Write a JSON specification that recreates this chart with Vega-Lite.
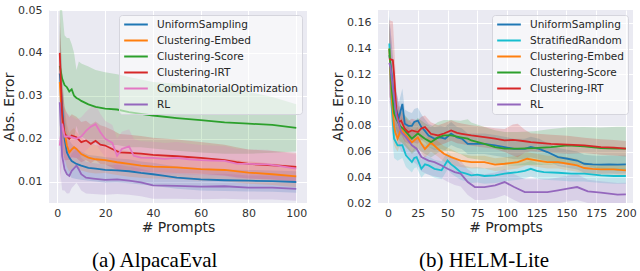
{
"$schema":"https://vega.github.io/schema/vega-lite/v6.json",
"padding":{"left":2,"top":4,"right":0,"bottom":0},
"background":"white",
"datasets":{
"alpaca":[
{"m":"UniformSampling","x":1,"y":0.0352,"lo":0.0232,"hi":0.0472},
{"m":"UniformSampling","x":2,"y":0.0277,"lo":0.0197,"hi":0.0357},
{"m":"UniformSampling","x":3,"y":0.0200,"lo":0.0140,"hi":0.0260},
{"m":"UniformSampling","x":4,"y":0.0168,"lo":0.0118,"hi":0.0218},
{"m":"UniformSampling","x":5,"y":0.0156,"lo":0.0116,"hi":0.0196},
{"m":"UniformSampling","x":6,"y":0.0148,"lo":0.0108,"hi":0.0188},
{"m":"UniformSampling","x":8,"y":0.0141,"lo":0.0106,"hi":0.0176},
{"m":"UniformSampling","x":10,"y":0.0137,"lo":0.0104,"hi":0.0170},
{"m":"UniformSampling","x":13,"y":0.0132,"lo":0.0102,"hi":0.0162},
{"m":"UniformSampling","x":16,"y":0.0130,"lo":0.0100,"hi":0.0160},
{"m":"UniformSampling","x":20,"y":0.0127,"lo":0.0097,"hi":0.0157},
{"m":"UniformSampling","x":25,"y":0.0126,"lo":0.0098,"hi":0.0154},
{"m":"UniformSampling","x":30,"y":0.0124,"lo":0.0096,"hi":0.0152},
{"m":"UniformSampling","x":35,"y":0.0120,"lo":0.0093,"hi":0.0147},
{"m":"UniformSampling","x":40,"y":0.0117,"lo":0.0090,"hi":0.0144},
{"m":"UniformSampling","x":45,"y":0.0113,"lo":0.0087,"hi":0.0139},
{"m":"UniformSampling","x":50,"y":0.0109,"lo":0.0083,"hi":0.0135},
{"m":"UniformSampling","x":60,"y":0.0105,"lo":0.0079,"hi":0.0131},
{"m":"UniformSampling","x":70,"y":0.0103,"lo":0.0078,"hi":0.0128},
{"m":"UniformSampling","x":80,"y":0.0102,"lo":0.0077,"hi":0.0127},
{"m":"UniformSampling","x":90,"y":0.0101,"lo":0.0076,"hi":0.0126},
{"m":"UniformSampling","x":100,"y":0.0099,"lo":0.0074,"hi":0.0124},
{"m":"Clustering-Embed","x":1,"y":0.0332,"lo":0.0212,"hi":0.0452},
{"m":"Clustering-Embed","x":2,"y":0.0238,"lo":0.0158,"hi":0.0318},
{"m":"Clustering-Embed","x":3,"y":0.0215,"lo":0.0155,"hi":0.0275},
{"m":"Clustering-Embed","x":4,"y":0.0184,"lo":0.0134,"hi":0.0234},
{"m":"Clustering-Embed","x":5,"y":0.0168,"lo":0.0123,"hi":0.0213},
{"m":"Clustering-Embed","x":6,"y":0.0175,"lo":0.0130,"hi":0.0220},
{"m":"Clustering-Embed","x":7,"y":0.0180,"lo":0.0135,"hi":0.0225},
{"m":"Clustering-Embed","x":8,"y":0.0176,"lo":0.0136,"hi":0.0216},
{"m":"Clustering-Embed","x":10,"y":0.0164,"lo":0.0126,"hi":0.0202},
{"m":"Clustering-Embed","x":13,"y":0.0156,"lo":0.0121,"hi":0.0191},
{"m":"Clustering-Embed","x":16,"y":0.0152,"lo":0.0119,"hi":0.0185},
{"m":"Clustering-Embed","x":20,"y":0.0150,"lo":0.0120,"hi":0.0180},
{"m":"Clustering-Embed","x":25,"y":0.0145,"lo":0.0115,"hi":0.0175},
{"m":"Clustering-Embed","x":30,"y":0.0141,"lo":0.0111,"hi":0.0171},
{"m":"Clustering-Embed","x":35,"y":0.0137,"lo":0.0109,"hi":0.0165},
{"m":"Clustering-Embed","x":40,"y":0.0135,"lo":0.0107,"hi":0.0163},
{"m":"Clustering-Embed","x":50,"y":0.0133,"lo":0.0106,"hi":0.0160},
{"m":"Clustering-Embed","x":60,"y":0.0129,"lo":0.0102,"hi":0.0156},
{"m":"Clustering-Embed","x":70,"y":0.0127,"lo":0.0101,"hi":0.0153},
{"m":"Clustering-Embed","x":80,"y":0.0121,"lo":0.0095,"hi":0.0147},
{"m":"Clustering-Embed","x":90,"y":0.0117,"lo":0.0092,"hi":0.0142},
{"m":"Clustering-Embed","x":100,"y":0.0112,"lo":0.0087,"hi":0.0137},
{"m":"Clustering-Score","x":1,"y":0.037,"lo":0.017,"hi":0.058},
{"m":"Clustering-Score","x":2,"y":0.034,"lo":0.020,"hi":0.050},
{"m":"Clustering-Score","x":3,"y":0.0325,"lo":0.021,"hi":0.0441},
{"m":"Clustering-Score","x":4,"y":0.032,"lo":0.0205,"hi":0.0435},
{"m":"Clustering-Score","x":5,"y":0.031,"lo":0.0195,"hi":0.0435},
{"m":"Clustering-Score","x":6,"y":0.0315,"lo":0.021,"hi":0.042},
{"m":"Clustering-Score","x":7,"y":0.030,"lo":0.020,"hi":0.040},
{"m":"Clustering-Score","x":8,"y":0.0295,"lo":0.023,"hi":0.036},
{"m":"Clustering-Score","x":9,"y":0.0292,"lo":0.021,"hi":0.038},
{"m":"Clustering-Score","x":10,"y":0.0288,"lo":0.0205,"hi":0.0375},
{"m":"Clustering-Score","x":13,"y":0.0280,"lo":0.0195,"hi":0.0368},
{"m":"Clustering-Score","x":16,"y":0.0274,"lo":0.019,"hi":0.036},
{"m":"Clustering-Score","x":20,"y":0.0270,"lo":0.0185,"hi":0.0355},
{"m":"Clustering-Score","x":25,"y":0.0268,"lo":0.0185,"hi":0.0350},
{"m":"Clustering-Score","x":30,"y":0.0262,"lo":0.018,"hi":0.0344},
{"m":"Clustering-Score","x":35,"y":0.0258,"lo":0.018,"hi":0.0338},
{"m":"Clustering-Score","x":40,"y":0.0254,"lo":0.0177,"hi":0.0332},
{"m":"Clustering-Score","x":50,"y":0.0248,"lo":0.0172,"hi":0.0328},
{"m":"Clustering-Score","x":60,"y":0.0243,"lo":0.0168,"hi":0.0320},
{"m":"Clustering-Score","x":70,"y":0.0238,"lo":0.0165,"hi":0.0315},
{"m":"Clustering-Score","x":80,"y":0.0235,"lo":0.0165,"hi":0.0309},
{"m":"Clustering-Score","x":90,"y":0.0232,"lo":0.0167,"hi":0.0297},
{"m":"Clustering-Score","x":100,"y":0.0225,"lo":0.0170,"hi":0.0280},
{"m":"Clustering-IRT","x":1,"y":0.040,"lo":0.030,"hi":0.050},
{"m":"Clustering-IRT","x":2,"y":0.0255,"lo":0.0175,"hi":0.0335},
{"m":"Clustering-IRT","x":3,"y":0.0212,"lo":0.015,"hi":0.0274},
{"m":"Clustering-IRT","x":4,"y":0.0205,"lo":0.0150,"hi":0.0260},
{"m":"Clustering-IRT","x":5,"y":0.0200,"lo":0.0150,"hi":0.0250},
{"m":"Clustering-IRT","x":6,"y":0.0207,"lo":0.0157,"hi":0.0257},
{"m":"Clustering-IRT","x":8,"y":0.0203,"lo":0.0155,"hi":0.0251},
{"m":"Clustering-IRT","x":10,"y":0.0192,"lo":0.0145,"hi":0.0239},
{"m":"Clustering-IRT","x":12,"y":0.0196,"lo":0.0150,"hi":0.0242},
{"m":"Clustering-IRT","x":14,"y":0.0188,"lo":0.0143,"hi":0.0233},
{"m":"Clustering-IRT","x":16,"y":0.0195,"lo":0.0150,"hi":0.0240},
{"m":"Clustering-IRT","x":18,"y":0.0186,"lo":0.0141,"hi":0.0231},
{"m":"Clustering-IRT","x":20,"y":0.0184,"lo":0.0140,"hi":0.0228},
{"m":"Clustering-IRT","x":23,"y":0.0176,"lo":0.0132,"hi":0.0220},
{"m":"Clustering-IRT","x":26,"y":0.0168,"lo":0.0125,"hi":0.0211},
{"m":"Clustering-IRT","x":30,"y":0.0167,"lo":0.0125,"hi":0.0209},
{"m":"Clustering-IRT","x":35,"y":0.0165,"lo":0.0124,"hi":0.0206},
{"m":"Clustering-IRT","x":40,"y":0.0162,"lo":0.0122,"hi":0.0202},
{"m":"Clustering-IRT","x":50,"y":0.0159,"lo":0.0120,"hi":0.0198},
{"m":"Clustering-IRT","x":60,"y":0.0155,"lo":0.0118,"hi":0.0192},
{"m":"Clustering-IRT","x":70,"y":0.0150,"lo":0.0114,"hi":0.0186},
{"m":"Clustering-IRT","x":75,"y":0.0145,"lo":0.0110,"hi":0.0180},
{"m":"Clustering-IRT","x":80,"y":0.0141,"lo":0.0107,"hi":0.0175},
{"m":"Clustering-IRT","x":90,"y":0.0138,"lo":0.0105,"hi":0.0171},
{"m":"Clustering-IRT","x":100,"y":0.0134,"lo":0.0101,"hi":0.0167},
{"m":"CombinatorialOptimization","x":1,"y":0.0184,"lo":0.008,"hi":0.029},
{"m":"CombinatorialOptimization","x":2,"y":0.0235,"lo":0.016,"hi":0.031},
{"m":"CombinatorialOptimization","x":3,"y":0.0205,"lo":0.0145,"hi":0.0265},
{"m":"CombinatorialOptimization","x":5,"y":0.0205,"lo":0.0155,"hi":0.0255},
{"m":"CombinatorialOptimization","x":8,"y":0.0200,"lo":0.0155,"hi":0.0245},
{"m":"CombinatorialOptimization","x":10,"y":0.0205,"lo":0.0160,"hi":0.0250},
{"m":"CombinatorialOptimization","x":12,"y":0.0218,"lo":0.0173,"hi":0.0263},
{"m":"CombinatorialOptimization","x":14,"y":0.0228,"lo":0.0183,"hi":0.0273},
{"m":"CombinatorialOptimization","x":16,"y":0.0234,"lo":0.0190,"hi":0.0278},
{"m":"CombinatorialOptimization","x":18,"y":0.0215,"lo":0.0172,"hi":0.0258},
{"m":"CombinatorialOptimization","x":20,"y":0.0200,"lo":0.0158,"hi":0.0242},
{"m":"CombinatorialOptimization","x":23,"y":0.0190,"lo":0.0148,"hi":0.0232},
{"m":"CombinatorialOptimization","x":25,"y":0.0160,"lo":0.0120,"hi":0.0200},
{"m":"CombinatorialOptimization","x":27,"y":0.0176,"lo":0.0136,"hi":0.0216},
{"m":"CombinatorialOptimization","x":30,"y":0.0182,"lo":0.0142,"hi":0.0222},
{"m":"CombinatorialOptimization","x":32,"y":0.0160,"lo":0.0121,"hi":0.0199},
{"m":"CombinatorialOptimization","x":35,"y":0.0156,"lo":0.0118,"hi":0.0194},
{"m":"CombinatorialOptimization","x":40,"y":0.0155,"lo":0.0117,"hi":0.0193},
{"m":"CombinatorialOptimization","x":45,"y":0.0153,"lo":0.0116,"hi":0.0190},
{"m":"CombinatorialOptimization","x":50,"y":0.0155,"lo":0.0118,"hi":0.0192},
{"m":"CombinatorialOptimization","x":55,"y":0.0152,"lo":0.0116,"hi":0.0188},
{"m":"CombinatorialOptimization","x":60,"y":0.0150,"lo":0.0115,"hi":0.0185},
{"m":"CombinatorialOptimization","x":65,"y":0.0149,"lo":0.0114,"hi":0.0184},
{"m":"CombinatorialOptimization","x":70,"y":0.0148,"lo":0.0113,"hi":0.0183},
{"m":"CombinatorialOptimization","x":75,"y":0.0142,"lo":0.0108,"hi":0.0176},
{"m":"CombinatorialOptimization","x":80,"y":0.0141,"lo":0.0107,"hi":0.0175},
{"m":"CombinatorialOptimization","x":88,"y":0.0140,"lo":0.0106,"hi":0.0174},
{"m":"CombinatorialOptimization","x":92,"y":0.0137,"lo":0.0104,"hi":0.0170},
{"m":"CombinatorialOptimization","x":100,"y":0.0130,"lo":0.0097,"hi":0.0163},
{"m":"RL","x":1,"y":0.0285,"lo":0.0135,"hi":0.0435},
{"m":"RL","x":2,"y":0.0160,"lo":0.0080,"hi":0.0240},
{"m":"RL","x":3,"y":0.0129,"lo":0.0079,"hi":0.0179},
{"m":"RL","x":4,"y":0.0117,"lo":0.0072,"hi":0.0162},
{"m":"RL","x":5,"y":0.0113,"lo":0.0073,"hi":0.0153},
{"m":"RL","x":6,"y":0.0125,"lo":0.0085,"hi":0.0165},
{"m":"RL","x":8,"y":0.0137,"lo":0.0097,"hi":0.0177},
{"m":"RL","x":9,"y":0.0128,"lo":0.0089,"hi":0.0167},
{"m":"RL","x":10,"y":0.0117,"lo":0.0079,"hi":0.0155},
{"m":"RL","x":12,"y":0.0109,"lo":0.0072,"hi":0.0146},
{"m":"RL","x":15,"y":0.0107,"lo":0.0071,"hi":0.0143},
{"m":"RL","x":20,"y":0.0104,"lo":0.0069,"hi":0.0139},
{"m":"RL","x":25,"y":0.0105,"lo":0.0071,"hi":0.0139},
{"m":"RL","x":30,"y":0.0102,"lo":0.0069,"hi":0.0135},
{"m":"RL","x":35,"y":0.0098,"lo":0.0066,"hi":0.0130},
{"m":"RL","x":40,"y":0.0091,"lo":0.0060,"hi":0.0122},
{"m":"RL","x":50,"y":0.0090,"lo":0.0060,"hi":0.0120},
{"m":"RL","x":60,"y":0.0088,"lo":0.0059,"hi":0.0117},
{"m":"RL","x":70,"y":0.0089,"lo":0.0060,"hi":0.0118},
{"m":"RL","x":80,"y":0.0086,"lo":0.0058,"hi":0.0114},
{"m":"RL","x":90,"y":0.0086,"lo":0.0058,"hi":0.0114},
{"m":"RL","x":100,"y":0.0083,"lo":0.0055,"hi":0.0111}
],
"helm":[
{"m":"UniformSampling","x":1,"y":0.135,"lo":0.105,"hi":0.165},
{"m":"UniformSampling","x":3,"y":0.120,"lo":0.095,"hi":0.145},
{"m":"UniformSampling","x":5,"y":0.100,"lo":0.080,"hi":0.120},
{"m":"UniformSampling","x":7,"y":0.092,"lo":0.077,"hi":0.107},
{"m":"UniformSampling","x":9,"y":0.086,"lo":0.074,"hi":0.098},
{"m":"UniformSampling","x":12,"y":0.097,"lo":0.085,"hi":0.109},
{"m":"UniformSampling","x":14,"y":0.0816,"lo":0.0706,"hi":0.0926},
{"m":"UniformSampling","x":17,"y":0.080,"lo":0.069,"hi":0.091},
{"m":"UniformSampling","x":20,"y":0.080,"lo":0.070,"hi":0.090},
{"m":"UniformSampling","x":22,"y":0.083,"lo":0.073,"hi":0.093},
{"m":"UniformSampling","x":25,"y":0.084,"lo":0.074,"hi":0.094},
{"m":"UniformSampling","x":28,"y":0.079,"lo":0.069,"hi":0.089},
{"m":"UniformSampling","x":31,"y":0.076,"lo":0.067,"hi":0.085},
{"m":"UniformSampling","x":34,"y":0.0725,"lo":0.0635,"hi":0.0815},
{"m":"UniformSampling","x":39,"y":0.070,"lo":0.061,"hi":0.079},
{"m":"UniformSampling","x":44,"y":0.071,"lo":0.062,"hi":0.080},
{"m":"UniformSampling","x":48,"y":0.070,"lo":0.061,"hi":0.079},
{"m":"UniformSampling","x":53,"y":0.074,"lo":0.065,"hi":0.083},
{"m":"UniformSampling","x":58,"y":0.071,"lo":0.063,"hi":0.079},
{"m":"UniformSampling","x":62,"y":0.070,"lo":0.062,"hi":0.078},
{"m":"UniformSampling","x":67,"y":0.066,"lo":0.058,"hi":0.074},
{"m":"UniformSampling","x":73,"y":0.066,"lo":0.058,"hi":0.074},
{"m":"UniformSampling","x":81,"y":0.066,"lo":0.058,"hi":0.074},
{"m":"UniformSampling","x":90,"y":0.0648,"lo":0.0568,"hi":0.0728},
{"m":"UniformSampling","x":98,"y":0.0635,"lo":0.0555,"hi":0.0715},
{"m":"UniformSampling","x":106,"y":0.062,"lo":0.054,"hi":0.070},
{"m":"UniformSampling","x":115,"y":0.062,"lo":0.054,"hi":0.070},
{"m":"UniformSampling","x":120,"y":0.0635,"lo":0.0555,"hi":0.0715},
{"m":"UniformSampling","x":127,"y":0.062,"lo":0.054,"hi":0.070},
{"m":"UniformSampling","x":134,"y":0.0596,"lo":0.0526,"hi":0.0666},
{"m":"UniformSampling","x":143,"y":0.0557,"lo":0.0487,"hi":0.0627},
{"m":"UniformSampling","x":151,"y":0.0544,"lo":0.0474,"hi":0.0614},
{"m":"UniformSampling","x":159,"y":0.053,"lo":0.046,"hi":0.060},
{"m":"UniformSampling","x":165,"y":0.0505,"lo":0.0435,"hi":0.0575},
{"m":"UniformSampling","x":172,"y":0.050,"lo":0.043,"hi":0.057},
{"m":"UniformSampling","x":179,"y":0.0498,"lo":0.0428,"hi":0.0568},
{"m":"UniformSampling","x":186,"y":0.050,"lo":0.043,"hi":0.057},
{"m":"UniformSampling","x":193,"y":0.0498,"lo":0.0428,"hi":0.0568},
{"m":"UniformSampling","x":200,"y":0.050,"lo":0.043,"hi":0.057},
{"m":"StratifiedRandom","x":1,"y":0.144,"lo":0.119,"hi":0.169},
{"m":"StratifiedRandom","x":2,"y":0.120,"lo":0.100,"hi":0.140},
{"m":"StratifiedRandom","x":3,"y":0.096,"lo":0.078,"hi":0.114},
{"m":"StratifiedRandom","x":5,"y":0.070,"lo":0.055,"hi":0.085},
{"m":"StratifiedRandom","x":8,"y":0.0648,"lo":0.0528,"hi":0.0768},
{"m":"StratifiedRandom","x":12,"y":0.065,"lo":0.055,"hi":0.075},
{"m":"StratifiedRandom","x":15,"y":0.057,"lo":0.048,"hi":0.066},
{"m":"StratifiedRandom","x":20,"y":0.0518,"lo":0.0438,"hi":0.0598},
{"m":"StratifiedRandom","x":22,"y":0.055,"lo":0.047,"hi":0.063},
{"m":"StratifiedRandom","x":24,"y":0.0557,"lo":0.0477,"hi":0.0637},
{"m":"StratifiedRandom","x":28,"y":0.0466,"lo":0.0396,"hi":0.0536},
{"m":"StratifiedRandom","x":31,"y":0.050,"lo":0.043,"hi":0.057},
{"m":"StratifiedRandom","x":34,"y":0.0492,"lo":0.0422,"hi":0.0562},
{"m":"StratifiedRandom","x":39,"y":0.0466,"lo":0.0396,"hi":0.0536},
{"m":"StratifiedRandom","x":45,"y":0.0454,"lo":0.0384,"hi":0.0524},
{"m":"StratifiedRandom","x":50,"y":0.053,"lo":0.046,"hi":0.060},
{"m":"StratifiedRandom","x":53,"y":0.050,"lo":0.043,"hi":0.057},
{"m":"StratifiedRandom","x":56,"y":0.048,"lo":0.041,"hi":0.055},
{"m":"StratifiedRandom","x":61,"y":0.044,"lo":0.038,"hi":0.050},
{"m":"StratifiedRandom","x":65,"y":0.043,"lo":0.037,"hi":0.049},
{"m":"StratifiedRandom","x":70,"y":0.0415,"lo":0.0355,"hi":0.0475},
{"m":"StratifiedRandom","x":75,"y":0.042,"lo":0.036,"hi":0.048},
{"m":"StratifiedRandom","x":81,"y":0.041,"lo":0.035,"hi":0.047},
{"m":"StratifiedRandom","x":90,"y":0.0415,"lo":0.0355,"hi":0.0475},
{"m":"StratifiedRandom","x":98,"y":0.0428,"lo":0.0368,"hi":0.0488},
{"m":"StratifiedRandom","x":109,"y":0.044,"lo":0.038,"hi":0.050},
{"m":"StratifiedRandom","x":115,"y":0.045,"lo":0.039,"hi":0.051},
{"m":"StratifiedRandom","x":120,"y":0.0466,"lo":0.0406,"hi":0.0526},
{"m":"StratifiedRandom","x":125,"y":0.045,"lo":0.039,"hi":0.051},
{"m":"StratifiedRandom","x":131,"y":0.044,"lo":0.038,"hi":0.050},
{"m":"StratifiedRandom","x":143,"y":0.0435,"lo":0.0375,"hi":0.0495},
{"m":"StratifiedRandom","x":154,"y":0.0428,"lo":0.0368,"hi":0.0488},
{"m":"StratifiedRandom","x":165,"y":0.0428,"lo":0.0368,"hi":0.0488},
{"m":"StratifiedRandom","x":179,"y":0.0415,"lo":0.0355,"hi":0.0475},
{"m":"StratifiedRandom","x":190,"y":0.041,"lo":0.035,"hi":0.047},
{"m":"StratifiedRandom","x":200,"y":0.041,"lo":0.035,"hi":0.047},
{"m":"Clustering-Embed","x":1,"y":0.140,"lo":0.115,"hi":0.165},
{"m":"Clustering-Embed","x":2,"y":0.120,"lo":0.100,"hi":0.140},
{"m":"Clustering-Embed","x":3,"y":0.101,"lo":0.083,"hi":0.119},
{"m":"Clustering-Embed","x":5,"y":0.080,"lo":0.065,"hi":0.095},
{"m":"Clustering-Embed","x":6,"y":0.075,"lo":0.063,"hi":0.087},
{"m":"Clustering-Embed","x":8,"y":0.070,"lo":0.060,"hi":0.080},
{"m":"Clustering-Embed","x":11,"y":0.0777,"lo":0.0677,"hi":0.0877},
{"m":"Clustering-Embed","x":15,"y":0.0725,"lo":0.0635,"hi":0.0815},
{"m":"Clustering-Embed","x":20,"y":0.067,"lo":0.059,"hi":0.075},
{"m":"Clustering-Embed","x":25,"y":0.071,"lo":0.063,"hi":0.079},
{"m":"Clustering-Embed","x":28,"y":0.066,"lo":0.059,"hi":0.073},
{"m":"Clustering-Embed","x":31,"y":0.062,"lo":0.055,"hi":0.069},
{"m":"Clustering-Embed","x":36,"y":0.067,"lo":0.060,"hi":0.074},
{"m":"Clustering-Embed","x":42,"y":0.062,"lo":0.056,"hi":0.068},
{"m":"Clustering-Embed","x":47,"y":0.0583,"lo":0.0523,"hi":0.0643},
{"m":"Clustering-Embed","x":53,"y":0.0557,"lo":0.0497,"hi":0.0617},
{"m":"Clustering-Embed","x":61,"y":0.053,"lo":0.048,"hi":0.058},
{"m":"Clustering-Embed","x":70,"y":0.0518,"lo":0.0468,"hi":0.0568},
{"m":"Clustering-Embed","x":81,"y":0.0518,"lo":0.0468,"hi":0.0568},
{"m":"Clustering-Embed","x":90,"y":0.0498,"lo":0.0448,"hi":0.0548},
{"m":"Clustering-Embed","x":98,"y":0.0505,"lo":0.0455,"hi":0.0555},
{"m":"Clustering-Embed","x":109,"y":0.0518,"lo":0.0468,"hi":0.0568},
{"m":"Clustering-Embed","x":117,"y":0.0544,"lo":0.0494,"hi":0.0594},
{"m":"Clustering-Embed","x":126,"y":0.053,"lo":0.048,"hi":0.058},
{"m":"Clustering-Embed","x":134,"y":0.0518,"lo":0.0468,"hi":0.0568},
{"m":"Clustering-Embed","x":143,"y":0.0518,"lo":0.0468,"hi":0.0568},
{"m":"Clustering-Embed","x":151,"y":0.0505,"lo":0.0455,"hi":0.0555},
{"m":"Clustering-Embed","x":159,"y":0.0492,"lo":0.0442,"hi":0.0542},
{"m":"Clustering-Embed","x":165,"y":0.0472,"lo":0.0432,"hi":0.0512},
{"m":"Clustering-Embed","x":172,"y":0.0465,"lo":0.0425,"hi":0.0505},
{"m":"Clustering-Embed","x":179,"y":0.0461,"lo":0.0421,"hi":0.0501},
{"m":"Clustering-Embed","x":190,"y":0.0461,"lo":0.0421,"hi":0.0501},
{"m":"Clustering-Embed","x":200,"y":0.0454,"lo":0.0414,"hi":0.0494},
{"m":"Clustering-Score","x":1,"y":0.140,"lo":0.120,"hi":0.160},
{"m":"Clustering-Score","x":2,"y":0.125,"lo":0.105,"hi":0.145},
{"m":"Clustering-Score","x":3,"y":0.109,"lo":0.091,"hi":0.127},
{"m":"Clustering-Score","x":5,"y":0.090,"lo":0.075,"hi":0.105},
{"m":"Clustering-Score","x":7,"y":0.085,"lo":0.072,"hi":0.098},
{"m":"Clustering-Score","x":10,"y":0.080,"lo":0.068,"hi":0.092},
{"m":"Clustering-Score","x":14,"y":0.0764,"lo":0.0644,"hi":0.0884},
{"m":"Clustering-Score","x":20,"y":0.070,"lo":0.058,"hi":0.082},
{"m":"Clustering-Score","x":25,"y":0.074,"lo":0.062,"hi":0.086},
{"m":"Clustering-Score","x":31,"y":0.070,"lo":0.058,"hi":0.082},
{"m":"Clustering-Score","x":36,"y":0.0673,"lo":0.0553,"hi":0.0793},
{"m":"Clustering-Score","x":42,"y":0.071,"lo":0.059,"hi":0.083},
{"m":"Clustering-Score","x":47,"y":0.0725,"lo":0.0605,"hi":0.0845},
{"m":"Clustering-Score","x":53,"y":0.0725,"lo":0.0605,"hi":0.0845},
{"m":"Clustering-Score","x":61,"y":0.071,"lo":0.058,"hi":0.084},
{"m":"Clustering-Score","x":67,"y":0.070,"lo":0.055,"hi":0.085},
{"m":"Clustering-Score","x":70,"y":0.0686,"lo":0.0546,"hi":0.0826},
{"m":"Clustering-Score","x":81,"y":0.066,"lo":0.053,"hi":0.079},
{"m":"Clustering-Score","x":90,"y":0.0635,"lo":0.0505,"hi":0.0765},
{"m":"Clustering-Score","x":98,"y":0.0622,"lo":0.0492,"hi":0.0752},
{"m":"Clustering-Score","x":109,"y":0.0622,"lo":0.0492,"hi":0.0752},
{"m":"Clustering-Score","x":123,"y":0.0627,"lo":0.0497,"hi":0.0757},
{"m":"Clustering-Score","x":137,"y":0.0635,"lo":0.0495,"hi":0.0775},
{"m":"Clustering-Score","x":151,"y":0.0648,"lo":0.0508,"hi":0.0788},
{"m":"Clustering-Score","x":165,"y":0.064,"lo":0.049,"hi":0.079},
{"m":"Clustering-Score","x":179,"y":0.0627,"lo":0.0467,"hi":0.0787},
{"m":"Clustering-Score","x":193,"y":0.0622,"lo":0.0452,"hi":0.0792},
{"m":"Clustering-Score","x":200,"y":0.0622,"lo":0.0452,"hi":0.0792},
{"m":"Clustering-IRT","x":1,"y":0.132,"lo":0.102,"hi":0.162},
{"m":"Clustering-IRT","x":4,"y":0.131,"lo":0.101,"hi":0.161},
{"m":"Clustering-IRT","x":5,"y":0.120,"lo":0.095,"hi":0.145},
{"m":"Clustering-IRT","x":7,"y":0.0906,"lo":0.0756,"hi":0.1056},
{"m":"Clustering-IRT","x":9,"y":0.083,"lo":0.071,"hi":0.095},
{"m":"Clustering-IRT","x":11,"y":0.084,"lo":0.073,"hi":0.095},
{"m":"Clustering-IRT","x":14,"y":0.0777,"lo":0.0677,"hi":0.0877},
{"m":"Clustering-IRT","x":17,"y":0.075,"lo":0.066,"hi":0.084},
{"m":"Clustering-IRT","x":20,"y":0.0764,"lo":0.0674,"hi":0.0854},
{"m":"Clustering-IRT","x":25,"y":0.0751,"lo":0.0661,"hi":0.0841},
{"m":"Clustering-IRT","x":28,"y":0.078,"lo":0.069,"hi":0.087},
{"m":"Clustering-IRT","x":31,"y":0.079,"lo":0.070,"hi":0.088},
{"m":"Clustering-IRT","x":36,"y":0.0738,"lo":0.0648,"hi":0.0828},
{"m":"Clustering-IRT","x":42,"y":0.0725,"lo":0.0645,"hi":0.0805},
{"m":"Clustering-IRT","x":47,"y":0.074,"lo":0.066,"hi":0.082},
{"m":"Clustering-IRT","x":53,"y":0.0764,"lo":0.0684,"hi":0.0844},
{"m":"Clustering-IRT","x":58,"y":0.0745,"lo":0.0665,"hi":0.0825},
{"m":"Clustering-IRT","x":62,"y":0.0738,"lo":0.0658,"hi":0.0818},
{"m":"Clustering-IRT","x":70,"y":0.0725,"lo":0.0645,"hi":0.0805},
{"m":"Clustering-IRT","x":81,"y":0.0712,"lo":0.0632,"hi":0.0792},
{"m":"Clustering-IRT","x":90,"y":0.070,"lo":0.062,"hi":0.078},
{"m":"Clustering-IRT","x":98,"y":0.0686,"lo":0.0596,"hi":0.0776},
{"m":"Clustering-IRT","x":105,"y":0.069,"lo":0.057,"hi":0.081},
{"m":"Clustering-IRT","x":109,"y":0.0686,"lo":0.0556,"hi":0.0816},
{"m":"Clustering-IRT","x":115,"y":0.068,"lo":0.059,"hi":0.077},
{"m":"Clustering-IRT","x":120,"y":0.0673,"lo":0.0603,"hi":0.0743},
{"m":"Clustering-IRT","x":137,"y":0.066,"lo":0.059,"hi":0.073},
{"m":"Clustering-IRT","x":151,"y":0.0653,"lo":0.0583,"hi":0.0723},
{"m":"Clustering-IRT","x":165,"y":0.0648,"lo":0.0588,"hi":0.0708},
{"m":"Clustering-IRT","x":179,"y":0.0635,"lo":0.0575,"hi":0.0695},
{"m":"Clustering-IRT","x":190,"y":0.063,"lo":0.057,"hi":0.069},
{"m":"Clustering-IRT","x":200,"y":0.0622,"lo":0.0562,"hi":0.0682},
{"m":"RL","x":1,"y":0.129,"lo":0.099,"hi":0.159},
{"m":"RL","x":2,"y":0.125,"lo":0.095,"hi":0.155},
{"m":"RL","x":4,"y":0.109,"lo":0.084,"hi":0.134},
{"m":"RL","x":7,"y":0.088,"lo":0.070,"hi":0.106},
{"m":"RL","x":11,"y":0.0751,"lo":0.0601,"hi":0.0901},
{"m":"RL","x":15,"y":0.0712,"lo":0.0582,"hi":0.0842},
{"m":"RL","x":20,"y":0.0648,"lo":0.0528,"hi":0.0768},
{"m":"RL","x":24,"y":0.0622,"lo":0.0502,"hi":0.0742},
{"m":"RL","x":28,"y":0.0557,"lo":0.0447,"hi":0.0667},
{"m":"RL","x":34,"y":0.053,"lo":0.042,"hi":0.064},
{"m":"RL","x":39,"y":0.0518,"lo":0.0408,"hi":0.0628},
{"m":"RL","x":45,"y":0.0492,"lo":0.0392,"hi":0.0592},
{"m":"RL","x":50,"y":0.0466,"lo":0.0366,"hi":0.0566},
{"m":"RL","x":56,"y":0.044,"lo":0.034,"hi":0.054},
{"m":"RL","x":61,"y":0.0428,"lo":0.0328,"hi":0.0528},
{"m":"RL","x":67,"y":0.0363,"lo":0.0263,"hi":0.0463},
{"m":"RL","x":73,"y":0.0324,"lo":0.0224,"hi":0.0424},
{"m":"RL","x":81,"y":0.0324,"lo":0.0224,"hi":0.0424},
{"m":"RL","x":90,"y":0.0337,"lo":0.0237,"hi":0.0437},
{"m":"RL","x":98,"y":0.0363,"lo":0.0263,"hi":0.0463},
{"m":"RL","x":106,"y":0.0324,"lo":0.0224,"hi":0.0424},
{"m":"RL","x":115,"y":0.0285,"lo":0.0185,"hi":0.0385},
{"m":"RL","x":123,"y":0.0285,"lo":0.0185,"hi":0.0385},
{"m":"RL","x":134,"y":0.0285,"lo":0.0185,"hi":0.0385},
{"m":"RL","x":143,"y":0.0298,"lo":0.0198,"hi":0.0398},
{"m":"RL","x":151,"y":0.0311,"lo":0.0211,"hi":0.0411},
{"m":"RL","x":159,"y":0.0324,"lo":0.0224,"hi":0.0424},
{"m":"RL","x":168,"y":0.029,"lo":0.020,"hi":0.038},
{"m":"RL","x":179,"y":0.028,"lo":0.019,"hi":0.037},
{"m":"RL","x":193,"y":0.0265,"lo":0.0175,"hi":0.0355},
{"m":"RL","x":200,"y":0.0267,"lo":0.0177,"hi":0.0357}
]
},
"hconcat":[
{
"width":258,"height":193,
"data":{"name":"alpaca"},
"title":{"text":"(a) AlpacaEval","orient":"bottom","anchor":"middle","frame":"bounds","font":"Liberation Serif","fontSize":21,"fontWeight":"normal","color":"black","offset":16},
"encoding":{
"x":{"field":"x","type":"quantitative","scale":{"domain":[-3.5,104.5],"nice":false,"zero":false},"axis":{"values":[0,20,40,60,80,100],"title":"# Prompts"}},
"color":{"field":"m","type":"nominal","scale":{"domain":["UniformSampling","Clustering-Embed","Clustering-Score","Clustering-IRT","CombinatorialOptimization","RL"],"range":["#1f77b4","#ff7f0e","#2ca02c","#d62728","#e377c2","#9467bd"]},"legend":{"title":null}}
},
"layer":[
{"mark":{"type":"area","opacity":0.2,"clip":true},
"encoding":{
"y":{"field":"lo","type":"quantitative","scale":{"domain":[0.005,0.05],"nice":false,"zero":false},"axis":{"values":[0.01,0.02,0.03,0.04,0.05],"format":".2f","title":"Abs. Error"}},
"y2":{"field":"hi"}}},
{"mark":{"type":"line","strokeWidth":1.8,"clip":true},
"encoding":{
"y":{"field":"y","type":"quantitative","axis":{"values":[0.01,0.02,0.03,0.04,0.05],"format":".2f","title":"Abs. Error"}}}}
]
},
{
"width":255,"height":193,
"data":{"name":"helm"},
"title":{"text":"(b) HELM-Lite","orient":"bottom","anchor":"middle","frame":"bounds","font":"Liberation Serif","fontSize":21,"fontWeight":"normal","color":"black","offset":16},
"encoding":{
"x":{"field":"x","type":"quantitative","scale":{"domain":[-8.5,206],"nice":false,"zero":false},"axis":{"values":[0,25,50,75,100,125,150,175,200],"title":"# Prompts"}},
"color":{"field":"m","type":"nominal","scale":{"domain":["UniformSampling","StratifiedRandom","Clustering-Embed","Clustering-Score","Clustering-IRT","RL"],"range":["#1f77b4","#17becf","#ff7f0e","#2ca02c","#d62728","#9467bd"]},"legend":{"title":null}}
},
"layer":[
{"mark":{"type":"area","opacity":0.2,"clip":true},
"encoding":{
"y":{"field":"lo","type":"quantitative","scale":{"domain":[0.02,0.17],"nice":false,"zero":false},"axis":{"values":[0.02,0.04,0.06,0.08,0.10,0.12,0.14,0.16],"format":".2f","title":"Abs. Error"}},
"y2":{"field":"hi"}}},
{"mark":{"type":"line","strokeWidth":1.8,"clip":true},
"encoding":{
"y":{"field":"y","type":"quantitative","axis":{"values":[0.02,0.04,0.06,0.08,0.10,0.12,0.14,0.16],"format":".2f","title":"Abs. Error"}}}}
]
}
],
"resolve":{"scale":{"x":"independent","y":"independent","color":"independent"},"legend":{"color":"independent"}},
"config":{
"view":{"fill":"#EAEAF2","stroke":null},
"concat":{"spacing":24},
"axis":{"grid":true,"gridColor":"white","gridWidth":1,"domain":false,"ticks":false,"tickSize":0,"labelFont":"DejaVu Sans","labelFontSize":11,"labelColor":"#333333","titleFont":"DejaVu Sans","titleFontSize":14,"titleFontWeight":"normal","titleColor":"#262626","labelPadding":7,"titlePadding":1},
"axisX":{"labelPadding":4,"titlePadding":2},
"legend":{"orient":"top-right","offset":5,"fillColor":"rgba(255,255,255,0.55)","strokeColor":"#d5d5dd","cornerRadius":3,"padding":4,"symbolType":"stroke","symbolSize":560,"symbolStrokeWidth":2,"symbolOpacity":1,"clipHeight":11,"rowPadding":5,"labelFont":"DejaVu Sans","labelFontSize":10.5,"labelColor":"#262626","labelOffset":8}
}
}
